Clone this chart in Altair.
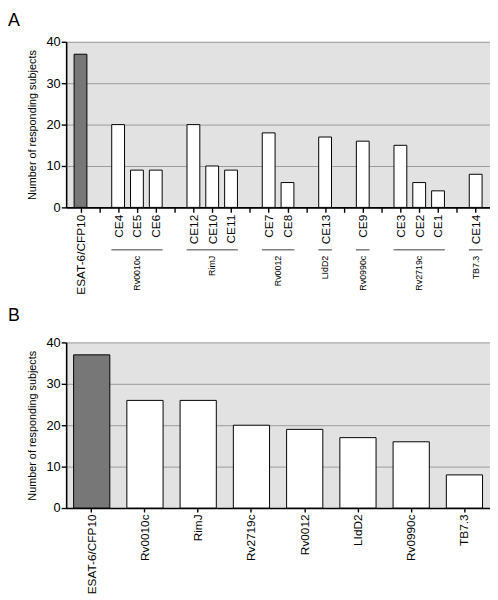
import json
import altair as alt
import pandas as pd

# ---------------- Data ----------------
# Panel A: individual epitopes (CE) grouped by antigen
a_labels = ["ESAT-6/CFP10", "CE4", "CE5", "CE6", "CE12", "CE10", "CE11",
            "CE7", "CE8", "CE13", "CE9", "CE3", "CE2", "CE1", "CE14"]
a_values = [37, 20, 9, 9, 20, 10, 9, 18, 6, 17, 16, 15, 6, 4, 8]
a_groups = ["", "Rv0010c", "Rv0010c", "Rv0010c", "RimJ", "RimJ", "RimJ",
            "Rv0012", "Rv0012", "LIdD2", "Rv0990c", "Rv2719c", "Rv2719c",
            "Rv2719c", "TB7.3"]

# Panel B: antigens
b_labels = ["ESAT-6/CFP10", "Rv0010c", "RimJ", "Rv2719c", "Rv0012",
            "LIdD2", "Rv0990c", "TB7.3"]
b_values = [37, 26, 26, 20, 19, 17, 16, 8]

y_ticks = [0, 10, 20, 30, 40]
highlight = "ESAT-6/CFP10"

# ---------------- Build tables ----------------
slots = []
slot_names = []
gap = 0
for i, g in enumerate(a_groups):
    if i > 0 and g != a_groups[i - 1]:
        slot_names.append("")
        gap += 1
    slots.append(i + gap)
    slot_names.append(a_labels[i])
n_slots = len(slot_names)

dfA = pd.DataFrame({"label": a_labels, "value": a_values,
                    "group": a_groups, "slot": slots})
grp = (dfA[dfA.group != ""].groupby("group", sort=False)["slot"]
       .agg(["min", "max"]).reset_index())
half = 0.36
grp["x0"] = grp["min"] - half
grp["x1"] = grp["max"] + half
grp["mid"] = (grp["min"] + grp["max"]) / 2

dfB = pd.DataFrame({"label": b_labels, "value": b_values})

H = 168
W = 430
GRID = "#9a9a9a"
DARK = "#777777"

y_axis = alt.Axis(values=y_ticks, grid=True, gridColor=GRID, gridWidth=1,
                  domainColor="black", domainWidth=1.6, tickColor="black",
                  tickWidth=1.4, tickSize=5, labelFontSize=13, labelPadding=1,
                  labelColor="black", title="Number of responding subjects",
                  titleFontSize=11, titleFontWeight="normal", titleColor="black",
                  titlePadding=9)
y_enc = alt.Y("value:Q", scale=alt.Scale(domain=[0, 40], nice=False), axis=y_axis)

fill_enc = alt.condition(alt.datum.label == highlight, alt.value(DARK), alt.value("white"))

# ---------------- Panel A ----------------
label_expr = json.dumps(slot_names) + "[datum.value]"
xA_scale = alt.Scale(domain=[-0.5, n_slots - 0.5], nice=False, zero=False)
xA_axis = alt.Axis(values=list(range(n_slots)), labelExpr=label_expr,
                   grid=False, labelAngle=-90, labelFontSize=12,
                   labelColor="black", labelPadding=2, tickSize=5,
                   tickColor="black", tickWidth=1.4, domainColor="black",
                   domainWidth=1.6, labelOverlap=False, labelBound=False,
                   labelFlush=False, labelSeparation=0)

barsA = alt.Chart(dfA).mark_bar(size=13, stroke="black", strokeWidth=1,
                                orient="vertical").encode(
    x=alt.X("slot:Q", scale=xA_scale, title=None, axis=xA_axis),
    y=y_enc.stack(None), fill=fill_enc)

rulesA = alt.Chart(grp).mark_rule(color="#808080", strokeWidth=1.6).encode(
    x=alt.X("x0:Q", scale=xA_scale, title=None, axis=xA_axis), x2="x1:Q",
    y=alt.value(H + 43))

textA = alt.Chart(grp).mark_text(angle=270, align="right", baseline="middle",
                                 fontSize=9, color="black").encode(
    x=alt.X("mid:Q", scale=xA_scale, title=None, axis=xA_axis),
    y=alt.value(H + 49), text="group:N")

letterA = alt.Chart(pd.DataFrame({"t": ["A"]})).mark_text(
    align="left", baseline="top", fontSize=18, color="black").encode(
    x=alt.value(-59), y=alt.value(-30), text="t:N")

panelA = alt.layer(barsA, rulesA, textA, letterA).properties(width=W, height=H)

# ---------------- Panel B ----------------
xB = alt.X("label:N", sort=b_labels, title=None,
           scale=alt.Scale(paddingInner=0.32, paddingOuter=0.14),
           axis=alt.Axis(labelAngle=-90, labelFontSize=12, labelColor="black",
                         labelPadding=2, tickSize=4, tickColor="black",
                         tickWidth=1.4, domainColor="black", domainWidth=1.6,
                         grid=False))

barsB = alt.Chart(dfB).mark_bar(stroke="black", strokeWidth=1).encode(
    x=xB, y=y_enc, fill=fill_enc)

letterB = alt.Chart(pd.DataFrame({"t": ["B"]})).mark_text(
    align="left", baseline="top", fontSize=18, color="black").encode(
    x=alt.value(-59), y=alt.value(-36), text="t:N")

panelB = alt.layer(barsB, letterB).properties(width=W, height=H)

chart = alt.vconcat(panelA, panelB, spacing=12).properties(
    padding={"left": 0, "top": 0, "right": 0, "bottom": 0}
).configure(font="Liberation Sans").configure_view(
    fill="#e2e2e2", strokeWidth=0).configure_axisX(labelOverlap=False)

chart.save("out.html", embed_options={"renderer": "svg", "actions": False})
